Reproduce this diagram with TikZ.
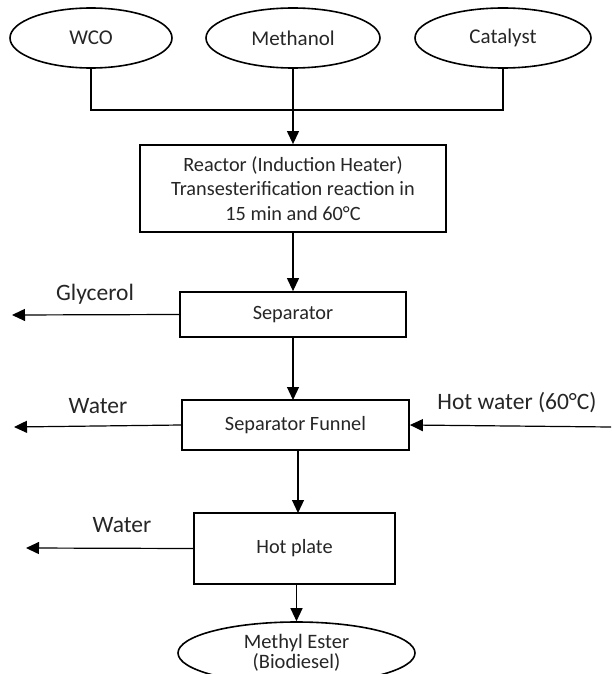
\documentclass[tikz,border=0pt]{standalone}
\usepackage{fontspec}
\setmainfont{Carlito}
\usetikzlibrary{arrows.meta,shapes.geometric}
\begin{document}
\begin{tikzpicture}[x=1pt,y=-1pt,
  feed/.style={draw,line width=1.6pt,ellipse,inner sep=0pt,font=\fontsize{21}{23}\selectfont,text=black!85},
  unit/.style={draw,line width=1.8pt,inner sep=0pt,align=center,font=\fontsize{20.3}{24.5}\selectfont,text=black!85},
  flow/.style={line width=1.2pt,-{Triangle[length=13pt,width=12pt]}},
  bus/.style={line width=1.2pt},
  lbl/.style={font=\fontsize{23.5}{26}\selectfont,text=black!85}]
\useasboundingbox (0,0) rectangle (611,674);
\clip (0,0) rectangle (611,674);
\fill[white] (0,0) rectangle (611,674);
% feeds
\node[feed,minimum width=162pt,minimum height=60pt] (wco) at (91,38) {WCO};
\node[feed,minimum width=174pt,minimum height=60pt] (meth) at (293,38) {Methanol};
\node[feed,minimum width=176pt,minimum height=60pt] (cat) at (503,38) {Catalyst};
% units
\node[unit,minimum width=306pt,minimum height=87pt] (reac) at (293,188.5)
  {Reactor (Induction Heater)\\Transesterification reaction in\\15 min and 60°C};
\node[unit,minimum width=226pt,minimum height=45pt] (sep) at (293,314.5) {Separator};
\node[unit,minimum width=227pt,minimum height=50pt] (fun) at (295.5,425) {Separator Funnel};
\node[unit,minimum width=201pt,minimum height=71pt] (hot) at (294.5,548.5) {Hot plate};
\node[feed,minimum width=237pt,minimum height=62pt,align=center,font=\fontsize{20.5}{20}\selectfont] (me) at (296.5,653) {Methyl Ester\\(Biodiesel)};
% bus
\coordinate (busL) at (wco.south |- 0,110);
\coordinate (busR) at (cat.south |- 0,110);
\draw[bus] (wco.south) -- (busL) -- (busR) -- (cat.south);
\draw[flow] (meth.south) -- (reac.north);
\draw[flow] (reac.south) -- (sep.north);
\draw[flow] (sep.south) -- (293,400);
\draw[flow] (298,450) -- (298,513);
\draw[flow] (hot.south -| me.north) -- (me.north);
% side streams
\coordinate (gly) at (12,315);
\coordinate (w1) at (14,427);
\coordinate (w2) at (26,548);
\coordinate (hw) at (611,427);
\draw[flow] (sep.west) -- (gly);
\draw[flow] (fun.west) -- (w1);
\draw[flow] (hot.west) -- (w2);
\draw[flow] (hw) -- (fun.east);
% labels
\node[lbl] (lg) at (95,294) {Glycerol};
\node[lbl] (lw1) at (98,406) {Water};
\node[lbl] (lw2) at (122,525) {Water};
\node[lbl] (lhw) at (517,403) {Hot water (60°C)};
\end{tikzpicture}
\end{document}
